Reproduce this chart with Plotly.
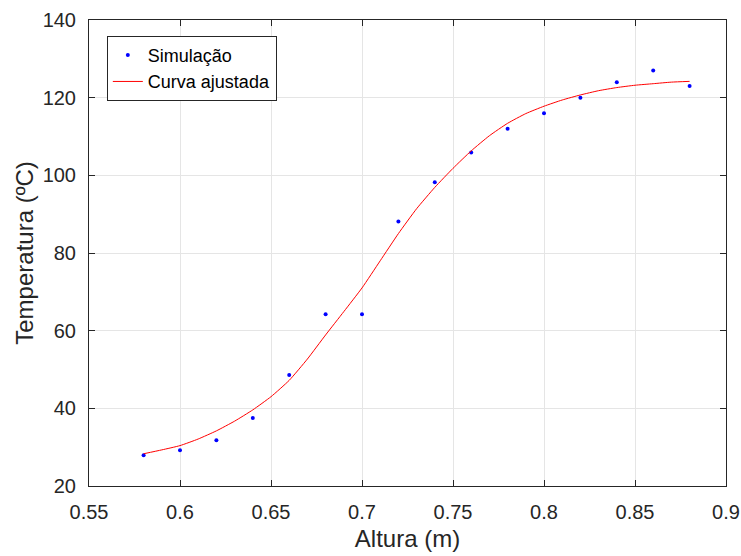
import plotly.graph_objects as go

# Simulated points
altura = [0.58, 0.60, 0.62, 0.64, 0.66, 0.68, 0.70, 0.72, 0.74, 0.76,
          0.78, 0.80, 0.82, 0.84, 0.86, 0.88]
temperatura = [27.9, 29.2, 31.8, 37.5, 48.6, 64.2, 64.2, 88.1, 98.2, 105.9,
               112.0, 116.0, 120.0, 124.0, 127.0, 123.0]

# Fitted curve
altura_ajuste = [0.58, 0.59, 0.60, 0.61, 0.62, 0.63, 0.64, 0.65, 0.66, 0.67,
                 0.68, 0.69, 0.70, 0.71, 0.72, 0.73, 0.74, 0.75, 0.76, 0.77,
                 0.78, 0.79, 0.80, 0.81, 0.82, 0.83, 0.84, 0.85, 0.86, 0.87,
                 0.88]
temp_ajuste = [28.3, 29.3, 30.4, 32.1, 34.2, 36.7, 39.6, 43.0, 47.2, 52.7,
               58.9, 64.9, 71.0, 78.0, 85.0, 91.4, 96.9, 101.8, 106.3, 110.2,
               113.4, 115.9, 117.8, 119.4, 120.7, 121.8, 122.6, 123.2, 123.6,
               124.0, 124.2]

x_ticks = [0.55, 0.6, 0.65, 0.7, 0.75, 0.8, 0.85, 0.9]
x_labels = ["0.55", "0.6", "0.65", "0.7", "0.75", "0.8", "0.85", "0.9"]
y_ticks = [20, 40, 60, 80, 100, 120, 140]

fig = go.Figure()
fig.add_trace(go.Scatter(
    x=altura, y=temperatura, mode="markers", name="Simulação",
    marker=dict(color="#0000FF", size=4),
))
fig.add_trace(go.Scatter(
    x=altura_ajuste, y=temp_ajuste, mode="lines", name="Curva ajustada",
    line=dict(color="#FF0000", width=1, shape="spline", smoothing=0.5),
))

axis_common = dict(
    showline=True, linecolor="#262626", linewidth=1, mirror="ticks",
    ticks="inside", ticklen=6, tickcolor="#262626",
    showgrid=True, gridcolor="#E5E5E5", gridwidth=1,
    zeroline=False, automargin=False, ticklabeloverflow="allow",
    tickfont=dict(family="Liberation Sans, Arial", size=20, color="#262626"),
)

fig.update_layout(
    width=741, height=556,
    margin=dict(l=89, r=15, t=20, b=70),
    paper_bgcolor="white", plot_bgcolor="white",
    font=dict(family="Liberation Sans, Arial", color="#262626"),
    xaxis=dict(range=[0.55, 0.9], tickvals=x_ticks, ticktext=x_labels,
               ticklabelstandoff=8,
               title=dict(text="Altura (m)", font=dict(size=24), standoff=8),
               **axis_common),
    yaxis=dict(range=[20, 140], tickvals=y_ticks, ticklabelstandoff=8,
               title=dict(text="Temperatura (ºC)", font=dict(size=24), standoff=2),
               **axis_common),
    legend=dict(
        x=0.028, y=0.966, xanchor="left", yanchor="top",
        bgcolor="white", bordercolor="#262626", borderwidth=1,
        font=dict(family="Liberation Sans, Arial", size=18, color="#000000"),
        tracegroupgap=0,
    ),
    showlegend=True,
)

fig.write_html("out.html", config={"displayModeBar": False},
               post_script="document.body.style.margin='0';")
